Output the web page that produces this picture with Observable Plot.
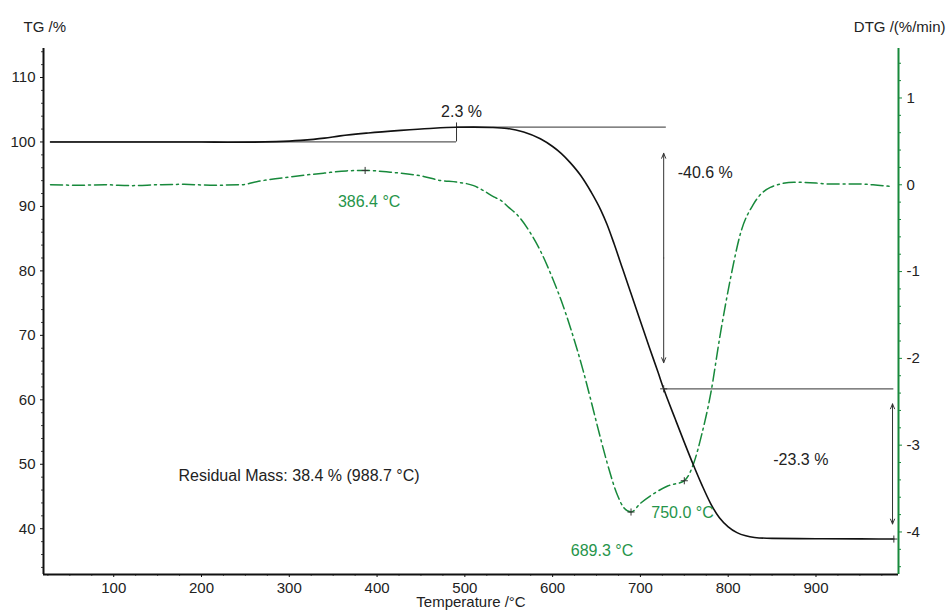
<!DOCTYPE html>
<html><head><meta charset="utf-8">
<script src="https://cdn.jsdelivr.net/npm/d3@7"></script>
<script src="https://cdn.jsdelivr.net/npm/@observablehq/plot@0.6"></script>
<style>
html,body{margin:0;padding:0;background:#fff;}
</style>
</head><body><div id="chart"></div>
<script>
// ---- data ----
const tgTemp = [28, 100, 200, 230, 260, 285, 313, 340, 358, 390, 427, 460, 490, 510, 530, 548, 567, 586, 600, 610, 620, 632, 644, 655, 662, 670, 680, 689, 700, 710, 720, 726.5, 740, 750, 760, 770, 780, 790, 800, 810, 820, 830, 850, 900, 950, 988.7];
const tgMass = [100, 100, 100, 99.96, 99.97, 100.05, 100.25, 100.6, 100.95, 101.4, 101.8, 102.1, 102.28, 102.3, 102.25, 102.1, 101.55, 100.5, 99.3, 98.2, 96.8, 94.8, 92.2, 89.4, 87.2, 84.2, 80.2, 76.6, 72.2, 68.2, 64.3, 61.7, 56.9, 53.4, 50.0, 46.8, 43.9, 41.7, 40.3, 39.4, 38.9, 38.65, 38.5, 38.45, 38.42, 38.4];

const dtgTemp = [28, 60, 90, 120, 150, 180, 210, 245, 265, 300, 340, 365, 386.4, 415, 453, 472, 491, 510, 521, 533, 541, 550, 560, 575, 586, 600, 610, 621, 635, 643, 651, 662, 674, 681, 689.3, 700, 715, 731, 750, 761, 770, 780, 791, 803, 814, 829, 848, 875, 900, 913, 943, 965, 985];
const dtgRate = [0.0, -0.005, 0.0, -0.01, 0.0, 0.005, -0.005, 0.0, 0.04, 0.09, 0.135, 0.16, 0.165, 0.145, 0.096, 0.05, 0.03, -0.01, -0.066, -0.14, -0.18, -0.26, -0.35, -0.56, -0.76, -1.08, -1.34, -1.67, -2.15, -2.46, -2.78, -3.2, -3.58, -3.72, -3.77, -3.67, -3.56, -3.47, -3.41, -3.2, -2.87, -2.41, -1.72, -1.06, -0.56, -0.22, -0.03, 0.03, 0.02, 0.01, 0.01, 0.0, -0.02];

const peakTemps = [386.4, 689.3, 750.0];
const peakRates = [0.165, -3.77, -3.41];
const peakLabels = ["386.4 °C", "689.3 °C", "750.0 °C"];

const massLevels = [100, 102.3, 61.7, 38.4];     // start, max, after step 1, residual
const stepTemps = [490.5, 726.5, 988.7];          // temperatures of step markers
const stepLabels = ["2.3 %", "-40.6 %", "-23.3 %"];
const residualLabel = "Residual Mass: 38.4 % (988.7 °C)";

const xTicks = [100, 200, 300, 400, 500, 600, 700, 800, 900];
const tgTicks = [40, 50, 60, 70, 80, 90, 100, 110];
const dtgTicks = [-4, -3, -2, -1, 0, 1];

// ---- scales ----
const xDomain = [20, 994];
const tgDomain = [32.9, 114.5];
const dtgDomain = [-4.49, 1.57];
const toTG = d => tgDomain[0] + (d - dtgDomain[0]) / (dtgDomain[1] - dtgDomain[0]) * (tgDomain[1] - tgDomain[0]);
const fromTG = v => dtgDomain[0] + (v - tgDomain[0]) / (tgDomain[1] - tgDomain[0]) * (dtgDomain[1] - dtgDomain[0]);

const xMinor = d3.range(25, 994, 25).filter(v => v % 100 !== 0);
const tgMinor = d3.range(34, 115, 2).filter(v => v % 10 !== 0);
const dtgMinor = d3.range(-44, 16, 2).filter(v => v % 10 !== 0).map(v => v / 10);

const tg = tgTemp.map((t, i) => ({t, v: tgMass[i]}));
const dtg = dtgTemp.map((t, i) => ({t, v: toTG(dtgRate[i])}));
const peaks = peakTemps.map((t, i) => ({t, v: toTG(peakRates[i]), label: peakLabels[i]}));

const GREEN = "#17893b";
const GREEN_TXT = "#25944a";
const TXT = "#222";
const GRAY = "#5a5a5a";
const FS = 15;
const FA = 16;

const cross = {draw(ctx, size) { const r = Math.sqrt(size) / 2; ctx.moveTo(-r, 0); ctx.lineTo(r, 0); ctx.moveTo(0, -r); ctx.lineTo(0, r); }};

// annotation geometry derived from the step values
const [m0, m1, m2, m3] = massLevels;
const [s1, s2, s3] = stepTemps;
const hLines = [
  {x1: tgTemp[0], x2: s1, y: m0},
  {x1: s1, x2: s2 + 3, y: m1},
  {x1: s2, x2: s3, y: m2}
];
const inset1 = 0.1 * (m1 - m2), inset2 = 0.1 * (m2 - m3);
const mid1 = (m1 + m2) / 2, mid2 = (m2 + m3) / 2;
const arrows = [
  {x: s2, y1: mid1, y2: m1 - inset1},
  {x: s2, y1: mid1, y2: m2 + inset1},
  {x: s3 - 1.5, y1: mid2, y2: m2 - inset2},
  {x: s3 - 1.5, y1: mid2, y2: m3 + inset2}
];
const stepMarks = [{t: s2, v: m2}, {t: s3, v: m3}];

const chart = Plot.plot({
  width: 946,
  height: 612,
  marginLeft: 43,
  marginRight: 48,
  marginTop: 48,
  marginBottom: 38,
  style: {fontFamily: "'Liberation Sans', Arial, sans-serif", fontSize: "15px", background: "#fff", color: TXT},
  x: {domain: xDomain},
  y: {domain: tgDomain},
  marks: [
    // axes
    Plot.axisX(xMinor, {anchor: "bottom", tickSize: 2, tickFormat: () => "", stroke: "#666", label: null}),
    Plot.axisX(xTicks, {anchor: "bottom", tickSize: 3, tickPadding: 5, fontSize: FS, stroke: "#111", fill: TXT, label: null, tickFormat: d => String(d)}),
    Plot.axisY(tgMinor, {anchor: "left", tickSize: 2, tickFormat: () => "", stroke: "#444", label: null}),
    Plot.axisY(tgTicks, {anchor: "left", tickSize: 3, tickPadding: 5, fontSize: FS, stroke: "#111", fill: TXT, label: null, tickFormat: d => String(d)}),
    Plot.axisY(dtgMinor.map(toTG), {anchor: "right", tickSize: 2, tickFormat: () => "", stroke: GREEN, label: null}),
    Plot.axisY(dtgTicks.map(toTG), {anchor: "right", tickSize: 3, tickPadding: 5, fontSize: FS, stroke: GREEN, fill: TXT, label: null, tickFormat: v => String(Math.round(fromTG(v)))}),
    Plot.ruleX([xDomain[0]], {stroke: "#111", strokeWidth: 2}),
    Plot.ruleY([tgDomain[0]], {stroke: "#111", strokeWidth: 2}),
    Plot.ruleX([xDomain[1]], {stroke: GREEN, strokeWidth: 2}),

    // annotation lines
    Plot.ruleY(hLines, {x1: "x1", x2: "x2", y: "y", stroke: GRAY, strokeWidth: 1.2}),
    Plot.ruleX([s1], {y1: m0, y2: m1 + 0.65, stroke: "#333", strokeWidth: 1}),
    Plot.arrow(arrows, {x: "x", y1: "y1", y2: "y2", stroke: "#333", strokeWidth: 1, headLength: 8, headAngle: 45}),

    // curves
    Plot.line(dtg, {x: "t", y: "v", stroke: GREEN, strokeWidth: 1.5, strokeDasharray: "12,4,2,4", curve: "monotone-x"}),
    Plot.line(tg, {x: "t", y: "v", stroke: "#111", strokeWidth: 1.6, curve: "monotone-x"}),

    // markers
    Plot.dot(peaks, {x: "t", y: "v", symbol: cross, r: 4, stroke: "#333", strokeWidth: 1, fill: "none"}),
    Plot.dot(stepMarks, {x: "t", y: "v", symbol: cross, r: 4, stroke: "#333", strokeWidth: 1, fill: "none"}),

    // peak labels
    Plot.text([peaks[0]], {x: "t", y: "v", text: "label", dx: 4, dy: 31, fill: GREEN_TXT, fontSize: FA}),
    Plot.text([peaks[1]], {x: "t", y: "v", text: "label", dx: -29, dy: 38.5, fill: GREEN_TXT, fontSize: FA}),
    Plot.text([peaks[2]], {x: "t", y: "v", text: "label", dx: -33, dy: 32.5, textAnchor: "start", fill: GREEN_TXT, fontSize: FA}),

    // step labels
    Plot.text([stepLabels[0]], {x: s1, y: m1, text: d => d, dx: 5, dy: -15, fill: TXT, fontSize: FA}),
    Plot.text([stepLabels[1]], {x: s2, y: m1, text: d => d, dx: 14, dy: 46, textAnchor: "start", fill: TXT, fontSize: FA}),
    Plot.text([stepLabels[2]], {x: s3, y: mid2, text: d => d, dx: -93, dy: -4, fill: TXT, fontSize: FA}),
    Plot.text([residualLabel], {frameAnchor: "bottom-left", text: d => d, dx: 255.5, dy: -94, textAnchor: "middle", fill: TXT, fontSize: FA}),

    // axis titles
    Plot.text(["TG /%"], {frameAnchor: "top-left", text: d => d, dx: -20, dy: -27, textAnchor: "start", fill: TXT, fontSize: FS}),
    Plot.text(["DTG /(%/min)"], {frameAnchor: "top-right", text: d => d, dx: 47, dy: -27, textAnchor: "end", fill: TXT, fontSize: FS}),
    Plot.text(["Temperature /°C"], {frameAnchor: "bottom", text: d => d, dy: 32.5, fill: TXT, fontSize: FS})
  ]
});
document.getElementById("chart").appendChild(chart);
</script>
</body></html>
